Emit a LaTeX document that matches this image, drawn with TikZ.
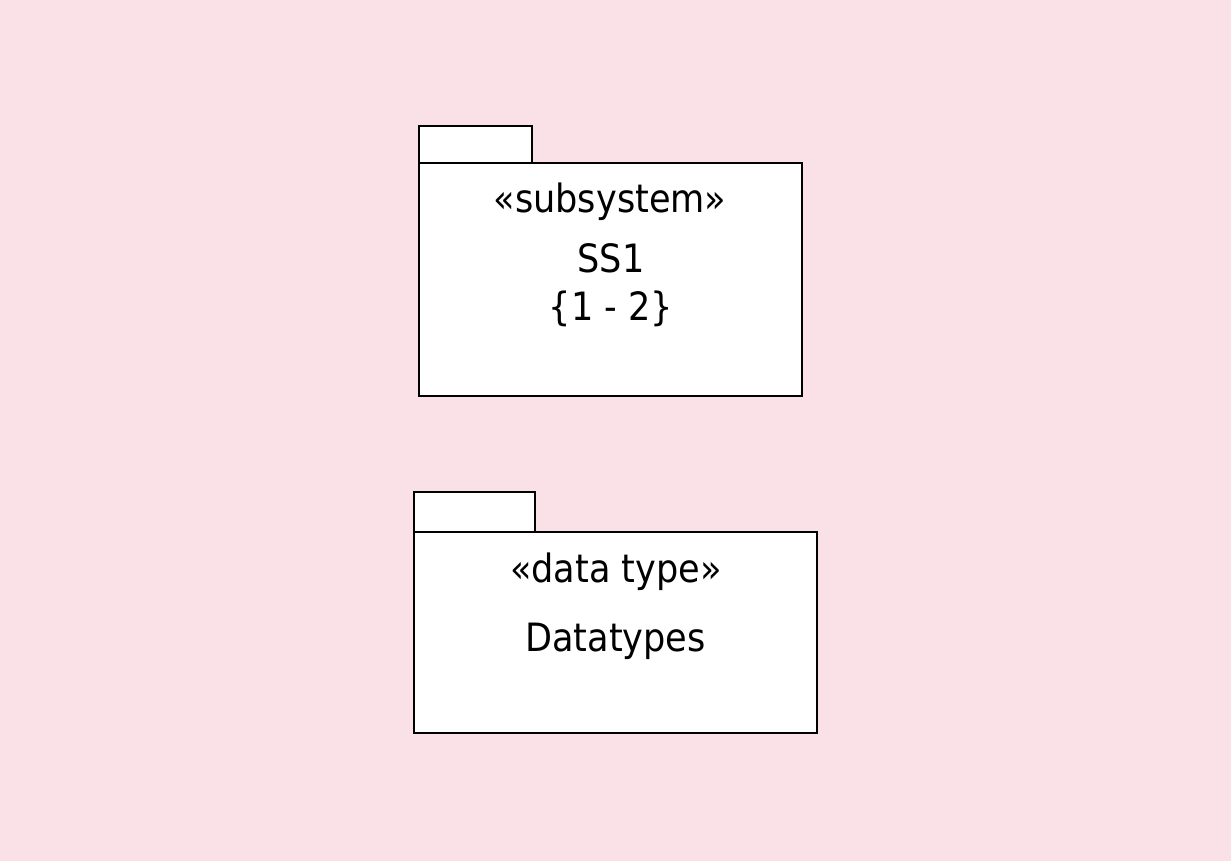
\documentclass[tikz,border=0pt]{standalone}
\usepackage{fontspec}
\setmainfont{DejaVu Sans Condensed}
\definecolor{bgpink}{HTML}{FAE1E7}
\begin{document}
\begin{tikzpicture}[x=1pt,y=-1pt,
  pkg/.style={draw=black,fill=white,line width=1.6pt},
  lbl/.style={anchor=base,inner sep=0pt,font=\fontsize{39}{44}\selectfont}]
\fill[bgpink] (0,0) rectangle (1231,861);
\useasboundingbox (0,0) rectangle (1231,861);
% package SS1
\draw[pkg] (419,126) rectangle (532,163);
\draw[pkg] (419,163) rectangle (802,396);
\node[lbl] (ss1st) at (610,213) {«subsystem»};
\node[lbl] (ss1name) at (611,272) {SS1};
\node[lbl] (ss1prop) at (611,320) {\{1 - 2\}};
% package Datatypes
\draw[pkg] (414,492) rectangle (535,532);
\draw[pkg] (414,532) rectangle (817,733);
\node[lbl] (dtst) at (616,582) {«data type»};
\node[lbl] (dtname) at (615.5,651) {Datatypes};
\end{tikzpicture}
\end{document}
